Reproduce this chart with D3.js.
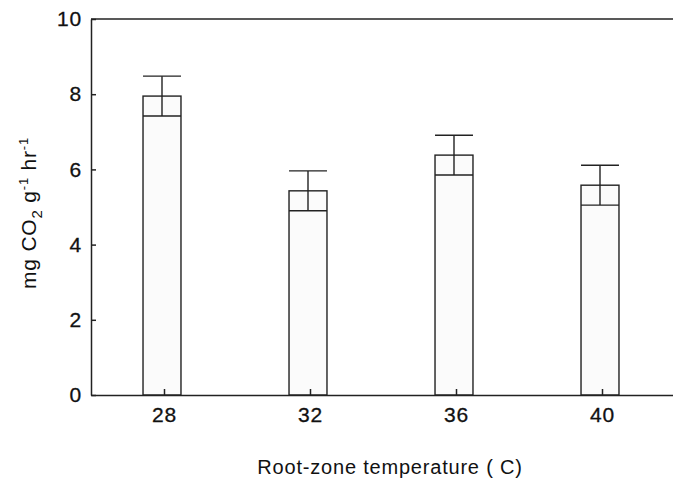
<html>
<head>
<script src="https://d3js.org/d3.v7.min.js"></script>
<style>
  body { margin: 0; background: #fff; }
  text { font-family: "Liberation Sans", Arial, sans-serif; fill: #111; letter-spacing: 0.8px; }
  .axis path, .axis line { stroke: #222; stroke-width: 1.5px; }
  .axis text { font-size: 21px; stroke: #111; stroke-width: 0.3px; }
  .bar { fill: #fbfbfb; stroke: #222; stroke-width: 1.4px; }
  .err { stroke: #222; stroke-width: 1.4px; }
</style>
</head>
<body>
<svg id="chart" width="673" height="479"></svg>
<script>
// temperature (C) and CO2 values
const temps = [28, 32, 36, 40];
const rates = [7.95, 5.43, 6.38, 5.58];
const errs  = [0.53, 0.53, 0.53, 0.53];
const yTicks = [0, 2, 4, 6, 8, 10];

const svg = d3.select("#chart");
const margin = {top: 19, right: 0, bottom: 84, left: 91};
const width = 673 - margin.left - margin.right;
const height = 479 - margin.top - margin.bottom;

const g = svg.append("g")
    .attr("transform", "translate(" + margin.left + "," + margin.top + ")");

const x = d3.scaleLinear().domain([26, 42]).range([0, 584]);
const y = d3.scaleLinear().domain([0, 10]).range([height, 0]);
const barW = x(27.04) - x(26);

// top frame line
g.append("line")
    .attr("x1", 0).attr("x2", width)
    .attr("y1", 0).attr("y2", 0)
    .attr("stroke", "#222").attr("stroke-width", 1.5);

const data = temps.map((t, i) => ({t: t, v: rates[i], e: errs[i]}));

// bars
g.selectAll(".bar").data(data).enter()
    .append("rect")
    .attr("class", "bar")
    .attr("x", d => x(d.t) - 2 - barW / 2)
    .attr("width", barW)
    .attr("y", d => y(d.v))
    .attr("height", d => y(0) - y(d.v));

// lower error line across the bar
g.selectAll(".lowline").data(data).enter()
    .append("line")
    .attr("class", "err")
    .attr("x1", d => x(d.t) - 2 - barW / 2)
    .attr("x2", d => x(d.t) - 2 + barW / 2)
    .attr("y1", d => y(d.v - d.e))
    .attr("y2", d => y(d.v - d.e));

// whisker
g.selectAll(".whisk").data(data).enter()
    .append("line")
    .attr("class", "err")
    .attr("x1", d => x(d.t) - 2).attr("x2", d => x(d.t) - 2)
    .attr("y1", d => y(d.v - d.e))
    .attr("y2", d => y(d.v + d.e));

g.selectAll(".cap").data(data).enter()
    .append("line")
    .attr("class", "err")
    .attr("x1", d => x(d.t) - 2 - barW / 2)
    .attr("x2", d => x(d.t) - 2 + barW / 2)
    .attr("y1", d => y(d.v + d.e))
    .attr("y2", d => y(d.v + d.e));

// axes
g.append("g")
    .attr("class", "axis")
    .call(d3.axisLeft(y).tickValues(yTicks).tickSizeInner(-5).tickSizeOuter(0).tickPadding(9));

g.append("g")
    .attr("class", "axis")
    .attr("transform", "translate(0," + height + ")")
    .call(d3.axisBottom(x).tickValues(temps).tickSizeInner(-6).tickSizeOuter(0).tickPadding(12));

// axis titles
svg.append("text")
    .attr("x", 390).attr("y", 474)
    .attr("text-anchor", "middle")
    .style("font-size", "20px")
    .text("Root-zone temperature ( C)");

const yl = svg.append("text")
    .attr("transform", "translate(36,213) rotate(-90)")
    .attr("text-anchor", "middle")
    .style("font-size", "21px");
yl.append("tspan").text("mg CO");
yl.append("tspan").attr("dy", 6).style("font-size", "15px").text("2");
yl.append("tspan").attr("dy", -6).text(" g");
yl.append("tspan").attr("dy", -8).style("font-size", "13px").text("-1");
yl.append("tspan").attr("dy", 8).text(" hr");
yl.append("tspan").attr("dy", -8).style("font-size", "13px").text("-1");
</script>
</body>
</html>
